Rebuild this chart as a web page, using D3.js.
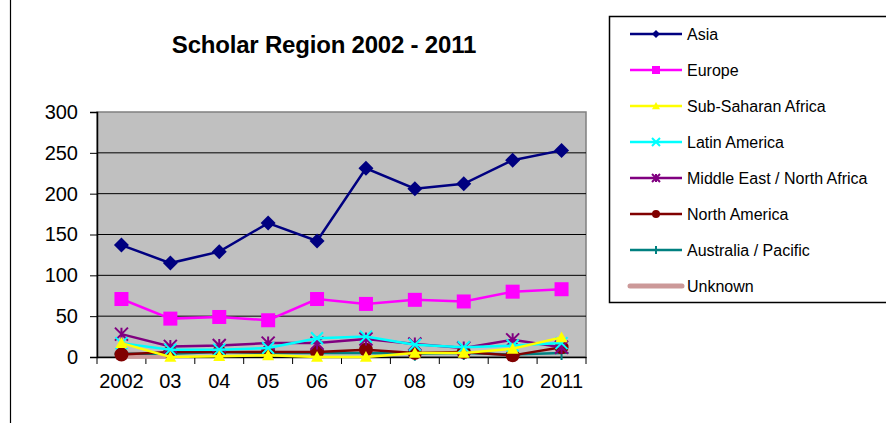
<!DOCTYPE html>
<html>
<head>
<meta charset="utf-8">
<script src="https://cdn.jsdelivr.net/npm/d3@7"></script>
<style>
  body { margin: 0; background: #fff; }
  svg { font-family: Arial, "Liberation Sans", sans-serif; display: block; }
</style>
</head>
<body>
<div id="chart-area"></div>
<script>
var years = ["2002", "03", "04", "05", "06", "07", "08", "09", "10", "2011"];
var yTicks = [0, 50, 100, 150, 200, 250, 300];

var asia = [137, 115, 129, 164, 142, 231, 206, 212, 241, 253];
var europe = [71, 47, 49, 45, 71, 65, 70, 68, 80, 83];
var subSaharan = [17, 0, 1, 2, 0, 0, 5, 5, 10, 24];
var latinAmerica = [17, 9, 9, 11, 23, 25, 15, 12, 14, 17];
var middleEast = [28, 13, 14, 17, 17, 22, 16, 11, 21, 12];
var northAmerica = [3, 6, 6, 6, 6, 9, 5, 6, 2, 12];
var australia = [4, 4, 6, 5, 5, 5, 4, 5, 3, 5];
var unknown = [2, 2, null, null, null, null, null, null, null, null];

var seriesNames = ["Asia", "Europe", "Sub-Saharan Africa", "Latin America",
    "Middle East / North Africa", "North America", "Australia / Pacific", "Unknown"];
var seriesValues = [asia, europe, subSaharan, latinAmerica, middleEast, northAmerica, australia, unknown];
var colours = ["#000080", "#ff00ff", "#ffff00", "#00ffff", "#800080", "#800000", "#008080", "#cc9999"];
var markers = ["diamond", "square", "triangle", "x", "asterisk", "circle", "plus", "none"];

var series = seriesNames.map((name, i) => {
    return { name: name, values: seriesValues[i], colour: colours[i], marker: markers[i] };
});

var width = 886, height = 428;
var svg = d3.select("#chart-area")
    .append("svg")
    .attr("width", width)
    .attr("height", height);

// frame line at left
svg.append("line")
    .attr("x1", 10.5).attr("x2", 10.5)
    .attr("y1", 0).attr("y2", 423)
    .attr("stroke", "#000").attr("stroke-width", 1.2);

var plot = { left: 97, right: 586, top: 112, bottom: 357 };

var x = d3.scaleBand()
    .domain(years)
    .range([plot.left, plot.right]);
var y = d3.scaleLinear()
    .domain([0, 300])
    .range([plot.bottom, plot.top]);

svg.append("text")
    .attr("x", 324).attr("y", 53)
    .attr("text-anchor", "middle")
    .attr("font-weight", "bold")
    .attr("font-size", 24)
    .attr("letter-spacing", -0.2)
    .text("Scholar Region 2002 - 2011");

// plot area
svg.append("rect")
    .attr("x", plot.left).attr("y", plot.top)
    .attr("width", plot.right - plot.left)
    .attr("height", plot.bottom - plot.top)
    .attr("fill", "#c0c0c0")
    .attr("stroke", "#808080")
    .attr("stroke-width", 1.5);

svg.append("g")
    .selectAll("line")
    .data(yTicks.filter(d => d > 0 && d < 300))
    .enter()
    .append("line")
    .attr("x1", plot.left).attr("x2", plot.right)
    .attr("y1", d => y(d)).attr("y2", d => y(d))
    .attr("stroke", "#000").attr("stroke-width", 1);

var yAxis = svg.append("g")
    .attr("transform", "translate(" + plot.left + ",0)")
    .call(d3.axisLeft(y).tickValues(yTicks).tickSize(7).tickPadding(12));
yAxis.selectAll("text").attr("font-size", 20).attr("fill", "#000").attr("font-family", "Arial, 'Liberation Sans', sans-serif");
yAxis.select(".domain").attr("stroke", "#000").attr("stroke-width", 1.5);

var xAxis = svg.append("g")
    .attr("transform", "translate(0," + plot.bottom + ")")
    .call(d3.axisBottom(x).tickSize(0).tickPadding(17));
xAxis.selectAll("text").attr("font-size", 20).attr("fill", "#000").attr("font-family", "Arial, 'Liberation Sans', sans-serif");
xAxis.select(".domain").attr("stroke", "#000").attr("stroke-width", 1.5);
// tick marks between categories
xAxis.selectAll(".sep")
    .data(years.concat(["end"]))
    .enter()
    .append("line")
    .attr("x1", (d, i) => plot.left + i * x.bandwidth())
    .attr("x2", (d, i) => plot.left + i * x.bandwidth())
    .attr("y1", 0).attr("y2", 7)
    .attr("stroke", "#000").attr("stroke-width", 1);

var cx = d => x(d) + x.bandwidth() / 2;

function drawMarker(g, type, colour, size) {
    var s = size;
    if (type == "diamond") {
        g.append("path").attr("d", "M0," + (-s) + "L" + s + ",0L0," + s + "L" + (-s) + ",0Z").attr("fill", colour);
    } else if (type == "square") {
        g.append("rect").attr("x", -s).attr("y", -s).attr("width", 2 * s).attr("height", 2 * s).attr("fill", colour);
    } else if (type == "triangle") {
        g.append("path").attr("d", "M0," + (-s) + "L" + s + "," + (s * 0.8) + "L" + (-s) + "," + (s * 0.8) + "Z").attr("fill", colour);
    } else if (type == "x") {
        g.append("path").attr("d", "M" + (-s) + "," + (-s) + "L" + s + "," + s + "M" + s + "," + (-s) + "L" + (-s) + "," + s)
            .attr("stroke", colour).attr("stroke-width", 2);
    } else if (type == "asterisk") {
        g.append("path").attr("d", "M" + (-s) + "," + (-s) + "L" + s + "," + s + "M" + s + "," + (-s) + "L" + (-s) + "," + s + "M0," + (-s) + "L0," + s)
            .attr("stroke", colour).attr("stroke-width", 2);
    } else if (type == "circle") {
        g.append("circle").attr("r", s).attr("fill", colour);
    } else if (type == "plus") {
        g.append("path").attr("d", "M" + (-s) + ",0L" + s + ",0M0," + (-s) + "L0," + s)
            .attr("stroke", colour).attr("stroke-width", 2);
    }
}

var markerSize = { diamond: 7.5, square: 7, triangle: 6, x: 6, asterisk: 6.5, circle: 7, plus: 7 };

// draw series in reverse order so Asia ends on top
series.slice().reverse().forEach((s) => {
    var pts = years.map((yr, i) => ({ year: yr, value: s.values[i] })).filter(p => p.value != null);
    var line = d3.line()
        .x(p => cx(p.year))
        .y(p => y(p.value));
    svg.append("path")
        .datum(pts)
        .attr("fill", "none")
        .attr("stroke", s.colour)
        .attr("stroke-width", s.marker == "none" ? 7 : 2.5)
        .attr("stroke-linecap", s.marker == "none" ? "square" : "butt")
        .attr("d", line);
    if (s.marker != "none") {
        pts.forEach((p) => {
            var g = svg.append("g").attr("transform", "translate(" + cx(p.year) + "," + y(p.value) + ")");
            drawMarker(g, s.marker, s.colour, markerSize[s.marker]);
        });
    }
});

// legend
var legend = svg.append("g");
legend.append("path")
    .attr("d", "M" + (width + 5) + ",16.5H609.5V302.5H" + (width + 5))
    .attr("fill", "none")
    .attr("stroke", "#000")
    .attr("stroke-width", 1.5);

var items = legend.selectAll("g.item")
    .data(series)
    .enter()
    .append("g")
    .attr("class", "item")
    .attr("transform", (d, i) => "translate(0," + (34 + i * 36) + ")");

items.append("line")
    .attr("x1", 630).attr("x2", 682)
    .attr("y1", 0).attr("y2", 0)
    .attr("stroke", d => d.colour)
    .attr("stroke-width", d => d.marker == "none" ? 5 : 2.5)
    .attr("stroke-linecap", d => d.marker == "none" ? "round" : "butt");

items.each(function (d) {
    if (d.marker != "none") {
        var g = d3.select(this).append("g").attr("transform", "translate(656,0)");
        drawMarker(g, d.marker, d.colour, 4);
    }
});

items.append("text")
    .attr("x", 687)
    .attr("y", 5.5)
    .attr("font-size", 16)
    .attr("fill", "#000")
    .text(d => d.name);
</script>
</body>
</html>
